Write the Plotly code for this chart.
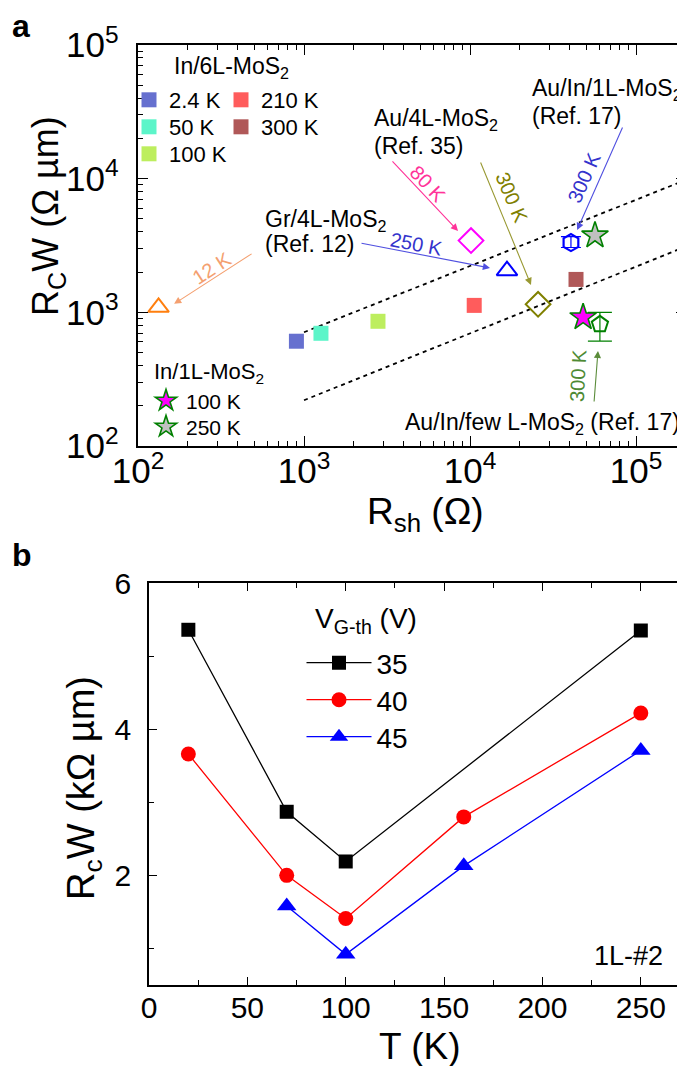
import numpy as np
import plotly.graph_objects as go

# ---------------- Panel a data ----------------
six_labels = ["2.4 K", "50 K", "100 K", "210 K", "300 K"]
six_rsh = [900, 1265, 2790, 10600, 43500]
six_rcw = [608, 697, 857, 1127, 1763]
six_colors = ["#6670CF", "#5CF5C9", "#BDEE5E", "#FF5C5C", "#B05858"]

gr_rsh = [133, 16700]           # Gr/4L-MoS2 (Ref. 12): 12 K, 250 K
gr_rcw = [1090, 2050]
gr_colors = ["#FF7F0E", "#0000FF"]

au4_rsh = [10140, 25700]        # Au/4L-MoS2 (Ref. 35): 80 K, 300 K
au4_rcw = [3440, 1148]
au4_colors = ["#FF00FF", "#808000"]

auin1_rsh = [40550]             # Au/In/1L-MoS2 (Ref. 17), 300 K
auin1_rcw = [3325]
auin1_err_plus = [365]
auin1_err_minus = [270]

auinfew_rsh = [60600]           # Au/In/few L-MoS2 (Ref. 17), 300 K
auinfew_rcw = [813]
auinfew_err_plus = [187]
auinfew_err_minus = [203]

in1_labels = ["100 K", "250 K"]  # In/1L-MoS2
in1_rsh = [48000, 56600]
in1_rcw = [918, 3757]
in1_fill = ["#FF00FF", "#C0C0C0"]

fit_rsh = [1000, 200000]
fit_upper = [710, 9800]
fit_lower = [220, 3110]

# ---------------- Panel b data ----------------
vg_labels = ["35", "40", "45"]
T_35 = [20, 70, 100, 250]
rc_35 = [5.36, 2.87, 2.19, 5.35]
T_40 = [20, 70, 100, 160, 250]
rc_40 = [3.66, 2.00, 1.41, 2.80, 4.22]
T_45 = [70, 100, 160, 250]
rc_45 = [1.58, 0.92, 2.13, 3.71]

FONT = "Liberation Sans, Arial, sans-serif"
W, H = 685, 1066

# legend key placement (pixel centre of key symbol) -- layout only
six_key_pos = [(147, 92), (147, 119), (147, 146), (239, 92), (239, 119)]
star_key_pos = [(164, 393), (164, 419)]
vg_key_pos = [(337, 655), (337, 692), (337, 729)]

fig = go.Figure()
legends = {}
leg_count = [0]


def new_legend(cx, cy, size, itemwidth=30):
    leg_count[0] += 1
    name = "legend" if leg_count[0] == 1 else "legend%d" % leg_count[0]
    centre = (itemwidth + 10) / 2
    legends[name] = dict(x=(cx - centre - 6) / W, y=1 - cy / H, xanchor="left",
                         yanchor="middle", font=dict(size=size),
                         bgcolor="rgba(0,0,0,0)", itemwidth=itemwidth)
    return name


# dashed guide lines
for yy in (fit_upper, fit_lower):
    fig.add_trace(go.Scatter(x=fit_rsh, y=yy, mode="lines", xaxis="x", yaxis="y",
                             line=dict(color="black", width=1.8, dash="4px,4px"),
                             showlegend=False, hoverinfo="skip"))

# In/6L-MoS2 squares
for lab, xv, yv, c, kp in zip(six_labels, six_rsh, six_rcw, six_colors, six_key_pos):
    lg = new_legend(kp[0], kp[1], 22)
    fig.add_trace(go.Scatter(x=[xv], y=[yv], mode="markers", name=lab, legend=lg,
                             xaxis="x", yaxis="y",
                             marker=dict(symbol="square", size=15, color=c,
                                         line=dict(width=0))))

# Gr/4L triangles
for xv, yv, c in zip(gr_rsh, gr_rcw, gr_colors):
    fig.add_trace(go.Scatter(x=[xv], y=[yv], mode="markers", showlegend=False,
                             xaxis="x", yaxis="y",
                             marker=dict(symbol="triangle-up-open", size=18, color=c,
                                         line=dict(width=2, color=c))))
# Au/4L diamonds
for xv, yv, c in zip(au4_rsh, au4_rcw, au4_colors):
    fig.add_trace(go.Scatter(x=[xv], y=[yv], mode="markers", showlegend=False,
                             xaxis="x", yaxis="y",
                             marker=dict(symbol="diamond-open", size=19, color=c,
                                         line=dict(width=2, color=c))))
# Au/In/1L hexagon
fig.add_trace(go.Scatter(x=auin1_rsh, y=auin1_rcw, mode="markers", showlegend=False,
                         xaxis="x", yaxis="y",
                         error_y=dict(type="data", array=auin1_err_plus,
                                      arrayminus=auin1_err_minus, color="#0000FF",
                                      thickness=1.2, width=10),
                         marker=dict(symbol="hexagon-open", size=17, color="#0000FF",
                                     line=dict(width=2.2, color="#0000FF"))))
# Au/In/few L pentagon
fig.add_trace(go.Scatter(x=auinfew_rsh, y=auinfew_rcw, mode="markers", showlegend=False,
                         xaxis="x", yaxis="y",
                         error_y=dict(type="data", array=auinfew_err_plus,
                                      arrayminus=auinfew_err_minus, color="#008000",
                                      thickness=1.2, width=12),
                         marker=dict(symbol="pentagon-open", size=17, color="#008000",
                                     line=dict(width=2, color="#008000"))))
# In/1L stars
for lab, xv, yv, c, kp in zip(in1_labels, in1_rsh, in1_rcw, in1_fill, star_key_pos):
    lg = new_legend(kp[0], kp[1], 21)
    fig.add_trace(go.Scatter(x=[xv], y=[yv], mode="markers", name=lab, legend=lg,
                             xaxis="x", yaxis="y",
                             marker=dict(symbol="star", size=20, color=c,
                                         line=dict(width=1.6, color="#008000"))))

# Panel b
for T, rc, nm, c, sym, sz, kp in [(T_35, rc_35, vg_labels[0], "#000000", "square", 14, vg_key_pos[0]),
                                  (T_40, rc_40, vg_labels[1], "#FF0000", "circle", 15, vg_key_pos[1]),
                                  (T_45, rc_45, vg_labels[2], "#0000FF", "triangle-up", 17, vg_key_pos[2])]:
    lg = new_legend(kp[0], kp[1], 28, itemwidth=65)
    fig.add_trace(go.Scatter(x=T, y=rc, mode="lines+markers", name=nm, legend=lg,
                             xaxis="x2", yaxis="y2",
                             line=dict(color=c, width=1.3),
                             marker=dict(symbol=sym, size=sz, color=c)))

axis_common = dict(showline=True, linecolor="black", linewidth=1.5, mirror="allticks",
                   ticks="inside", tickcolor="black", tickwidth=1.2, showgrid=False,
                   zeroline=False)

fig.update_layout(
    width=W, height=H, margin=dict(l=0, r=0, t=0, b=0, autoexpand=False),
    paper_bgcolor="white", plot_bgcolor="white",
    font=dict(family=FONT, color="black"),
    xaxis=dict(axis_common, type="log", range=[2, np.log10(2e5)], dtick=1,
               domain=[130 / W, 678 / W], anchor="y", ticklen=10,
               exponentformat="power", ticklabelstandoff=-5,
               tickfont=dict(size=28, family=FONT, color="black"),
               minor=dict(ticks="inside", ticklen=5, tickcolor="black", tickwidth=1.1)),
    yaxis=dict(axis_common, type="log", range=[2, 5], dtick=1,
               domain=[1 - 438 / H, 1 - 37 / H], anchor="x", ticklen=10,
               exponentformat="power", ticklabelstandoff=12,
               tickfont=dict(size=28, family=FONT, color="black"),
               minor=dict(ticks="inside", ticklen=5, tickcolor="black", tickwidth=1.1)),
    xaxis2=dict(axis_common, range=[0, 275], dtick=50,
                domain=[141 / W, 682 / W], anchor="y2", ticklen=8,
                ticklabelstandoff=-5,
                tickfont=dict(size=30, family=FONT, color="black"),
                minor=dict(ticks="inside", ticklen=5, dtick=25, tickcolor="black", tickwidth=1.1)),
    yaxis2=dict(axis_common, range=[0.5, 6], dtick=2, tick0=0,
                domain=[1 - 977 / H, 1 - 575 / H], anchor="x2", ticklen=8,
                ticklabelstandoff=10,
                tickfont=dict(size=30, family=FONT, color="black"),
                minor=dict(ticks="inside", ticklen=5, dtick=1, tickcolor="black", tickwidth=1.1)),
    **legends,
)

ann = []
# panel letters
ann.append(dict(text="<b>a</b>", x=2 / W, y=1 - 18 / H, xref="paper", yref="paper",
                showarrow=False, font=dict(size=32), xanchor="left", yanchor="middle"))
ann.append(dict(text="<b>b</b>", x=2 / W, y=1 - 547 / H, xref="paper", yref="paper",
                showarrow=False, font=dict(size=32), xanchor="left", yanchor="middle"))


def ptext(txt, px, py, size=23, color="black", angle=0, xanchor="center"):
    ann.append(dict(text=txt, x=px / W, y=1 - py / H, xref="paper", yref="paper",
                    showarrow=False, font=dict(size=size, color=color), textangle=angle,
                    xanchor=xanchor, yanchor="middle"))


def arrow(xh, yh, ax, ay, color):
    ann.append(dict(text="", x=np.log10(xh), y=np.log10(yh), xref="x", yref="y",
                    ax=ax, ay=ay, showarrow=True, arrowhead=2, arrowsize=1.3,
                    arrowwidth=1.1, arrowcolor=color, standoff=0))


# axis titles
ptext("R<sub>sh</sub> (Ω)", 417, 506, size=37)
ptext("R<sub>C</sub>W (Ω µm)", 40, 208, size=36, angle=-90)
ptext("T (K)", 412, 1038, size=37)
ptext("R<sub>c</sub>W (kΩ µm)", 76, 780, size=38, angle=-90)

# legend titles / labels
ptext("In/6L-MoS<sub>2</sub>", 164, 59, size=23, xanchor="left")
ptext("In/1L-MoS<sub>2</sub>", 144, 365, size=22, xanchor="left")
ptext("V<sub>G-th</sub> (V)", 305, 612, size=28, xanchor="left")
ptext("1L-#2", 657, 948, size=27, xanchor="right")

# references
ptext("Gr/4L-MoS<sub>2</sub>", 255, 212, xanchor="left")
ptext("(Ref. 12)", 255, 236, xanchor="left")
ptext("Au/4L-MoS<sub>2</sub>", 364, 112, xanchor="left")
ptext("(Ref. 35)", 364, 138, xanchor="left")
ptext("Au/In/1L-MoS<sub>2</sub>", 522, 82, xanchor="left")
ptext("(Ref. 17)", 522, 108, xanchor="left")
ptext("Au/In/few L-MoS<sub>2</sub> (Ref. 17)", 674, 415, xanchor="right")

# arrows and temperature labels
arrow(165, 1157, 79, -51, "#F4A070")
ptext("12 K", 204, 260, size=20, color="#F4A070", angle=-33)
arrow(13200, 2148, -130, -25, "#5050E0")
ptext("250 K", 408, 236, size=20, color="#3333CC", angle=11)
arrow(8470, 4065, -67, -71, "#FF3399")
ptext("80 K", 420, 176, size=20, color="#FF3399", angle=47)
arrow(23300, 1603, -51, -124, "#999933")
ptext("300 K", 504, 190, size=20, color="#808000", angle=67)
arrow(44200, 4130, 46, -104, "#5050E0")
ptext("300 K", 576, 170, size=20, color="#3333CC", angle=-66)
arrow(59000, 514, -4, 52, "#5B8C3A")
ptext("300 K", 570, 368, size=20, color="#4E8A33", angle=-87)

fig.update_layout(annotations=ann)
fig.write_html("out.html")
